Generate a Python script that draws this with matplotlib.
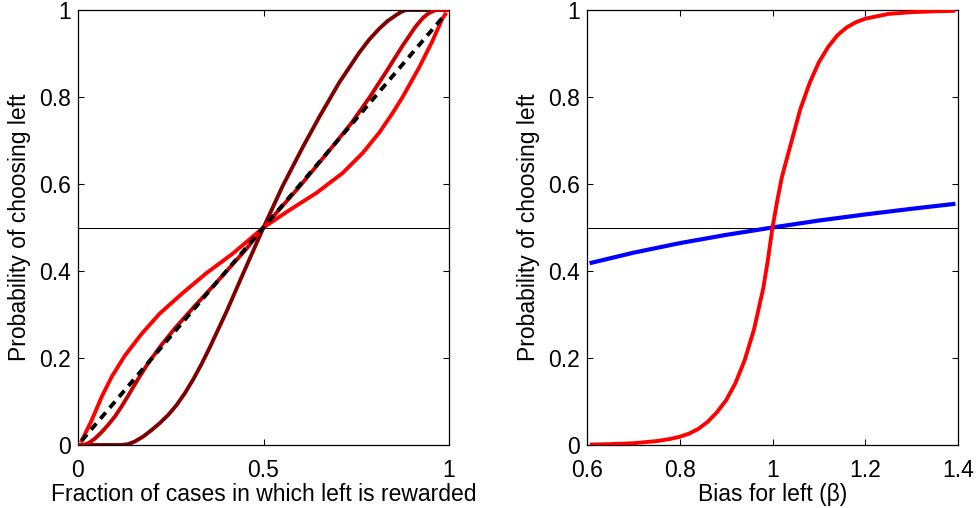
import matplotlib
matplotlib.use("Agg")
import matplotlib.pyplot as plt

plt.rcParams['font.family'] = ['Liberation Sans', 'DejaVu Sans']
plt.rcParams['font.size'] = 16.5

# ---------------- data ----------------
# Left panel: fraction of rewarded-left cases vs probability of choosing left
diag_x = [0.01, 0.99]
diag_y = [0.01, 0.99]

curveA_x = [0.01, 0.037, 0.064, 0.091, 0.126, 0.171, 0.22, 0.283, 0.346, 0.417, 0.5,
            0.57, 0.642, 0.713, 0.767, 0.812, 0.848, 0.875, 0.919, 0.955, 0.982, 0.99]
curveA_y = [0.01, 0.057, 0.111, 0.157, 0.205, 0.255, 0.302, 0.35, 0.395, 0.44, 0.5,
            0.54, 0.579, 0.625, 0.671, 0.718, 0.763, 0.8, 0.867, 0.928, 0.98, 0.99]

curveB_x = [0.0, 0.015, 0.03, 0.046, 0.063, 0.081, 0.1, 0.117, 0.135, 0.153, 0.171, 0.189,
            0.225, 0.261, 0.31, 0.382, 0.453, 0.5, 0.597, 0.686, 0.736, 0.785, 0.83,
            0.875, 0.91, 0.93, 0.946, 0.964, 1.0]
curveB_y = [0.0, 0.0, 0.005, 0.015, 0.029, 0.046, 0.066, 0.088, 0.113, 0.139, 0.164, 0.188,
            0.23, 0.268, 0.315, 0.382, 0.45, 0.5, 0.594, 0.686, 0.739, 0.798, 0.857,
            0.918, 0.962, 0.982, 0.993, 1.0, 1.0]

curveC_x = [0.0, 0.117, 0.135, 0.153, 0.175, 0.198, 0.22, 0.243, 0.265, 0.288, 0.31, 0.333,
            0.355, 0.4, 0.444, 0.5, 0.552, 0.606, 0.651, 0.704, 0.758, 0.785, 0.812,
            0.835, 0.857, 0.872, 0.884, 1.0]
curveC_y = [0.0, 0.0, 0.002, 0.008, 0.019, 0.034, 0.05, 0.069, 0.091, 0.119, 0.15, 0.186,
            0.224, 0.306, 0.392, 0.5, 0.596, 0.685, 0.755, 0.833, 0.902, 0.932, 0.957,
            0.975, 0.988, 0.996, 1.0, 1.0]

# Right panel: bias for left vs probability of choosing left
bias_red_x = [0.61, 0.65, 0.7, 0.75, 0.78, 0.8, 0.82, 0.84, 0.86, 0.88, 0.9, 0.92, 0.94,
              0.96, 0.98, 0.99, 1.0, 1.01, 1.02, 1.04, 1.06, 1.08, 1.1, 1.12, 1.14,
              1.16, 1.18, 1.2, 1.25, 1.3, 1.35, 1.39]
bias_red_y = [0.001, 0.002, 0.004, 0.009, 0.014, 0.019, 0.026, 0.037, 0.053, 0.075, 0.103,
              0.142, 0.195, 0.265, 0.36, 0.425, 0.5, 0.56, 0.615, 0.694, 0.772, 0.832,
              0.88, 0.915, 0.942, 0.96, 0.972, 0.98, 0.991, 0.995, 0.997, 0.998]

bias_blue_x = [0.61, 0.7, 0.8, 0.9, 1.0, 1.1, 1.2, 1.3, 1.39]
bias_blue_y = [0.419, 0.442, 0.464, 0.483, 0.5, 0.516, 0.530, 0.543, 0.554]

chance_level = 0.5

left_xticks = [0, 0.5, 1]
left_xticklabels = ['0', '0.5', '1']
right_xticks = [0.6, 0.8, 1.0, 1.2, 1.4]
right_xticklabels = ['0.6', '0.8', '1', '1.2', '1.4']
yticks = [0, 0.2, 0.4, 0.6, 0.8, 1.0]
yticklabels = ['0', '0.2', '0.4', '0.6', '0.8', '1']

# ---------------- figure ----------------
fig = plt.figure(figsize=(9.79, 5.08), dpi=100)
ax1 = fig.add_axes([78/979, 1-445/508, 371/979, 435/508])
ax2 = fig.add_axes([587/979, 1-445/508, 371/979, 435/508])

lw = 2.8
ax1.axhline(chance_level, color='black', lw=0.75, zorder=1)
ax1.plot(curveC_x, curveC_y, color='#800000', lw=lw, solid_joinstyle='round', zorder=2)
ax1.plot(curveB_x, curveB_y, color='#c80000', lw=lw, solid_joinstyle='round', zorder=3)
ax1.plot(curveA_x, curveA_y, color='#ff0000', lw=lw, solid_joinstyle='round', zorder=4)
ax1.plot(diag_x, diag_y, color='black', lw=lw, dashes=(2.1, 1.6), zorder=5)
ax1.set_xlim(0, 1)
ax1.set_ylim(0, 1)
ax1.set_xticks(left_xticks)
ax1.set_xticklabels(left_xticklabels)
ax1.set_xlabel('Fraction of cases in which left is rewarded', labelpad=1)
ax1.set_ylabel('Probability of choosing left', labelpad=6)

ax2.axhline(chance_level, color='black', lw=0.75, zorder=1)
ax2.plot(bias_blue_x, bias_blue_y, color='#0000ff', lw=3.0, zorder=2)
ax2.plot(bias_red_x, bias_red_y, color='#ff0000', lw=2.8, solid_joinstyle='round', zorder=3)
ax2.set_xlim(0.6, 1.4)
ax2.set_ylim(0, 1)
ax2.set_xticks(right_xticks)
ax2.set_xticklabels(right_xticklabels)
ax2.set_xlabel('Bias for left (β)', labelpad=1)
ax2.set_ylabel('Probability of choosing left', labelpad=6)

for ax in (ax1, ax2):
    ax.set_yticks(yticks)
    ax.set_yticklabels(yticklabels)
    ax.tick_params(direction='in', length=4, width=0.75, top=True, right=True,
                   labelsize=16.5)
    ax.tick_params(axis='x', pad=10)
    ax.tick_params(axis='y', pad=5)
    for s in ax.spines.values():
        s.set_linewidth(0.9)

fig.savefig('out.png', dpi=100)
